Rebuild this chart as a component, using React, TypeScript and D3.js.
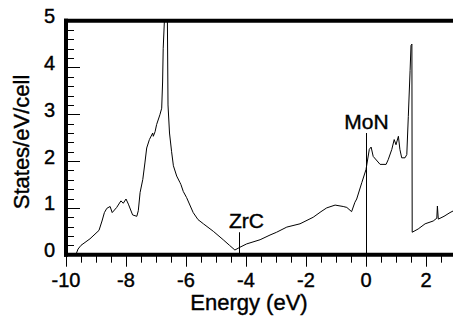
import React, { useRef, useEffect } from "react";
import * as d3 from "d3";

// DOS curve (energy in eV, states/eV/cell)
const energy = [
  -9.67, -9.6, -9.5, -9.2, -8.9, -8.8, -8.72, -8.64, -8.53, -8.46, -8.31, -8.17,
  -8.09, -8.0, -7.92, -7.78, -7.64, -7.59, -7.53, -7.44, -7.37, -7.31, -7.22,
  -7.11, -7.09, -7.03, -6.98, -6.87, -6.81, -6.78, -6.76, -6.72, -6.68, -6.64,
  -6.62, -6.6, -6.55, -6.48, -6.42, -6.31, -6.2, -6.17, -6.09, -5.98, -5.76,
  -5.6, -5.42, -5.09, -4.76, -4.55, -4.37, -4.2, -3.98, -3.53, -3.2, -2.98,
  -2.64, -2.2, -1.76, -1.5, -1.31, -1.03, -0.76, -0.64, -0.48, -0.37, -0.31,
  -0.14, 0.0, 0.11, 0.17, 0.24, 0.47, 0.67, 0.74, 0.86, 0.94, 1.0, 1.08, 1.13,
  1.19, 1.3, 1.36, 1.41, 1.47, 1.5, 1.53, 1.54, 1.74, 1.97, 2.24, 2.36, 2.38,
  2.41, 2.6, 2.8, 2.95,
];
const dos = [
  0.0, 0.12, 0.2, 0.34, 0.52, 0.72, 0.9, 0.99, 1.03, 0.9, 1.01, 1.15,
  1.1, 1.19, 1.08, 0.85, 0.82, 0.94, 1.33, 1.61, 1.96, 2.28, 2.46,
  2.6, 2.53, 2.63, 2.78, 2.99, 3.13, 3.69, 4.4, 5.0, 5.3, 5.3,
  5.0, 3.2, 2.6, 2.2, 1.9, 1.68, 1.54, 1.5, 1.35, 1.22, 0.9,
  0.75, 0.66, 0.5, 0.32, 0.2, 0.1, 0.16, 0.23, 0.32, 0.42, 0.48,
  0.59, 0.66, 0.8, 0.92, 1.0, 1.06, 1.03, 1.01, 0.92, 1.12, 1.19,
  1.54, 1.82, 2.25, 2.3, 2.1, 1.93, 1.93, 2.03, 2.25, 2.46, 2.35, 2.53, 2.25,
  2.07, 2.07, 2.14, 2.95, 3.94, 4.47, 4.5, 0.48, 0.55, 0.66, 0.72, 0.78, 1.04,
  0.76, 0.82, 0.9, 0.95,
];

// marker lines: label, energy, height of the stick
const markerLabels = ["ZrC", "MoN"];
const markerEnergy = [-4.23, 0];
const markerTop = [0.48, 2.6];

const xTicks = [-10, -8, -6, -4, -2, 0, 2];
const yTicks = [0, 1, 2, 3, 4, 5];

const W = 453;
const H = 320;
const FONT = "'Liberation Sans', Arial, Helvetica, sans-serif";

export default function App() {
  const svgRef = useRef<SVGSVGElement>(null);

  useEffect(() => {
    const svg = d3.select(svgRef.current);
    svg.selectAll("*").remove();

    const x = d3.scaleLinear().domain([-10, 0]).range([66, 366]);
    const y = d3.scaleLinear().domain([0, 5]).range([254.7, 20.7]);
    const xRight = x.invert(W + 2);

    // clip for the curve
    svg
      .append("defs")
      .append("clipPath")
      .attr("id", "plot")
      .append("rect")
      .attr("x", x(-10))
      .attr("y", y(5))
      .attr("width", W - x(-10))
      .attr("height", y(0) - y(5));

    const pts = energy.map((e, i) => [e, dos[i]] as [number, number]);
    const line = d3
      .line<[number, number]>()
      .x((d) => x(d[0]))
      .y((d) => y(d[1]));

    svg
      .append("path")
      .attr("d", line(pts))
      .attr("fill", "none")
      .attr("stroke", "#000")
      .attr("stroke-width", 1)
      .attr("stroke-linejoin", "round")
      .attr("clip-path", "url(#plot)");

    // y ticks (inside, major every 1, minor every 0.2)
    const yMinor = d3.range(0, 5.001, 0.2);
    svg
      .append("g")
      .selectAll("line")
      .data(yMinor)
      .join("line")
      .attr("x1", x(-10))
      .attr("x2", (d) => (Math.abs(d - Math.round(d)) < 1e-6 ? x(-10) + 14 : x(-10) + 8))
      .attr("y1", (d) => Math.round(y(d)) + 0.5)
      .attr("y2", (d) => Math.round(y(d)) + 0.5)
      .attr("stroke", "#000")
      .attr("stroke-width", 1);

    // x ticks (outside, major every 2, minor every 0.5)
    const xMinor = d3.range(-10, xRight, 0.5);
    svg
      .append("g")
      .selectAll("line")
      .data(xMinor)
      .join("line")
      .attr("x1", (d) => Math.round(x(d)) + 0.5)
      .attr("x2", (d) => Math.round(x(d)) + 0.5)
      .attr("y1", y(0))
      .attr("y2", (d) => (Math.abs(d % 2) < 1e-6 ? y(0) + 12 : y(0) + 8))
      .attr("stroke", "#000")
      .attr("stroke-width", 1);

    // frame: left, top, bottom
    const frame = svg.append("g").attr("stroke", "#000").attr("stroke-width", 4);
    frame.append("line").attr("x1", x(-10)).attr("x2", x(-10)).attr("y1", y(5) - 2).attr("y2", y(0) + 2);
    frame.append("line").attr("x1", x(-10) - 2).attr("x2", W).attr("y1", y(5)).attr("y2", y(5));
    frame.append("line").attr("x1", x(-10) - 2).attr("x2", W).attr("y1", y(0)).attr("y2", y(0));

    // all text a touch heavier, like the original Helvetica
    const txt = svg
      .append("g")
      .attr("font-family", FONT)
      .attr("fill", "#000")
      .attr("stroke", "#000")
      .attr("stroke-width", 0.4);

    // tick labels
    txt
      .append("g")
      .selectAll("text")
      .data(yTicks)
      .join("text")
      .attr("x", 55)
      .attr("y", (d) => y(d) + 2.5)
      .attr("text-anchor", "end")
      .attr("font-size", 20)
      .text((d) => d);

    txt
      .append("g")
      .selectAll("text")
      .data(xTicks)
      .join("text")
      .attr("x", (d) => x(d))
      .attr("y", 287)
      .attr("text-anchor", "middle")
      .attr("font-size", 20)
      .text((d) => d);

    // axis titles
    txt
      .append("text")
      .attr("transform", `translate(29,142) rotate(-90)`)
      .attr("text-anchor", "middle")
      .attr("font-size", 22)
      .text("States/eV/cell");

    txt
      .append("text")
      .attr("x", 249)
      .attr("y", 310)
      .attr("text-anchor", "middle")
      .attr("font-size", 22)
      .text("Energy (eV)");

    // markers
    const labelDx = [7, 0];
    markerLabels.forEach((lab, i) => {
      const mx = Math.round(x(markerEnergy[i])) + 0.5;
      svg
        .append("line")
        .attr("x1", mx)
        .attr("x2", mx)
        .attr("y1", y(0))
        .attr("y2", y(markerTop[i]))
        .attr("stroke", "#000")
        .attr("stroke-width", 1);
      txt
        .append("text")
        .attr("x", mx + labelDx[i])
        .attr("y", y(markerTop[i]) - 4)
        .attr("text-anchor", "middle")
        .attr("font-size", 21)
        .text(lab);
    });

    return () => {
      svg.selectAll("*").remove();
    };
  }, []);

  return (
    <svg
      ref={svgRef}
      width={W}
      height={H}
      style={{ position: "absolute", left: 0, top: 0, background: "#fff" }}
    />
  );
}
